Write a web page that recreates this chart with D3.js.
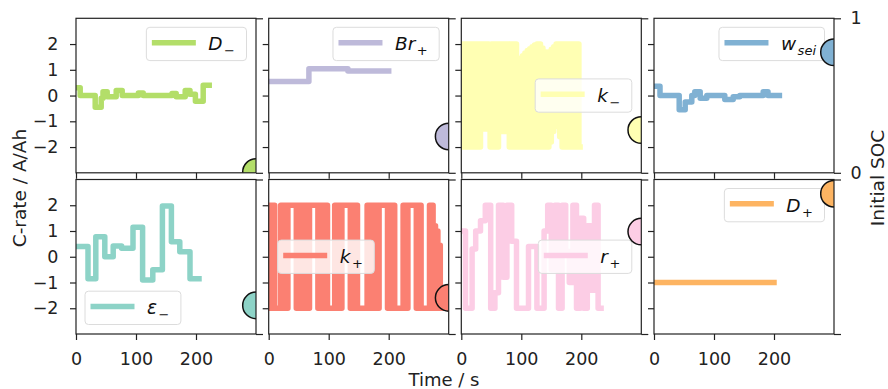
<!DOCTYPE html>
<html>
<head>
<meta charset="utf-8">
<script src="https://cdn.jsdelivr.net/npm/d3@7"></script>
<style>
  body { margin: 0; background: #fff; }
  svg { font-family: "DejaVu Sans", sans-serif; }
</style>
</head>
<body>
<svg id="chart" width="888" height="389"></svg>
<script>
// ---- data ----
const xTicks = [0, 100, 200];
const yTicks = [-2, -1, 0, 1, 2];
const socTicks = [0, 1];

// step series: times where the current changes, and the value from there on
const dNegT = [0, 7, 32, 42, 45, 52, 67, 77, 104, 112, 160, 167, 182, 190, 199, 212];
const dNegV = [0.3, 0, -0.45, -0.1, 0.15, -0.05, 0.2, 0, 0.1, 0, 0.08, -0.05, 0.2, 0.05, -0.22, 0.4];
const dNegEnd = 222;

const brPosT = [0, 67, 132];
const brPosV = [0.55, 1.04, 0.95];
const brPosEnd = 200;

const wSeiT = [0, 10, 42, 52, 63, 68, 77, 88, 118, 132, 143, 182, 190];
const wSeiV = [0.36, 0, -0.55, -0.25, 0, 0.15, -0.1, 0, -0.15, -0.05, 0, 0.15, 0];
const wSeiEnd = 209;

const epsNegT = [0, 20, 33, 48, 62, 76, 95, 111, 128, 144, 159, 173, 190];
const epsNegV = [0.4, -0.85, 0.78, 0, 0.42, 0.33, 1.15, -0.9, -0.5, 1.97, 0.58, 0.19, -0.85];
const epsNegEnd = 205;

const rPosT = [0, 7, 18, 24, 32, 40, 49, 56, 62, 70, 76, 84, 92, 112, 126, 138, 144, 150, 156, 162, 168, 174, 180, 186, 192, 198, 204, 210, 216, 222, 228];
const rPosV = [1.0, -2, 0.3, 1.0, 1.4, 2, -2, -1.4, 2, -0.8, 2, 0.6, -2, 0.4, -2, 1.0, 2, -0.5, 2, -2, 2, 0.2, -1.0, 2, -2, 1.5, -2, 1.2, -1.3, 2, -2];
const rPosEnd = 233;

const dPosT = [0];
const dPosV = [-1];
const dPosEnd = 200;

// bang-bang series, one value every 2 s
const denseStep = 2;
const kNegV = [
  2, -2, 2, -2, 2, -2, 2, -2, 2, -2, 2, -2, 2, -2, 2,
  -2, 2, -1.3, 2, -1.3, 2, -1.3, 2, -1.3,
  -2, 2, -2, 2, -2, 2, -2, 2,
  -1.4, 2, -1.4, 2, -1.4, 2, -1.4, 2,
  -2, 2, -2, 2, -2, 2,
  -2, 1.35, -2, 1.45, -2, 1.55, -2, 1.65, -2, 1.75, -2, 1.82, -2, 1.9, -2, 1.96, -2, 2,
  -2, 2, -2, 1.85, -2, 1.7, -2, 1.6,
  -2, 1.7, -1.8, 1.8, -1.4, 1.9, -0.95, 2, -1.2, 2, -1.6, 2, -2,
  2, -2, 2, -2, 2, -2, 2, -2, 2, -2, 2, -2, 2, -2
];
const kNegEnd = 198;

const kPosV = [
  2, -2, 2, -2, 2,
  -2, -2, -2, -2, -2,
  2, -2, 2, -2, 2, -2,
  2, 2, 2, 2, 2, 2, 2,
  -2, 2, -2, 2, -2, 2, -2, 2, -2, 2, -2,
  2, 2, 2, 2, 2, 2, 2,
  -2, 2, -2, 2, -2, 2, -2, 2,
  -2, -2, -2, -2, -2, -2,
  2, -2, 2, -2, 2, -2,
  2, 2, 2, 2, 2, 2, 2,
  -2, 2, -2, 2, -2, 2, -2,
  -2, -2, -2, -2, -2, -2, -2,
  2, -2, 2, -2, 2, -2, 2, -2, 2, -2,
  2, 2, 2, 2, 2, 2, 2,
  -2, 2, -2, 2, -2, 2,
  -2, -2, -2, -2, -2, -2, -2,
  2, -2, 2, -2,
  2, 2, 2, 2, 2, 2, 2,
  -2, 2, -2, 2,
  -2, -2, -2, -2, -2, -2, -2,
  2, -2, 2, -2, 1.2, -2, 1.0, -2, 0.45, -2
];
const kPosEnd = 288;

// initial state of charge marker per panel (right axis, 0..1)
const socInit = [0.005, 0.235, 0.277, 0.78, 0.185, 0.234, 0.663, 0.908];

const labelMain = ['D', 'Br', 'k', 'w', 'ε', 'k', 'r', 'D'];
const labelSub = ['−', '+', '−', 'sei', '−', '+', '+', '+'];
const colors = ['#b3de69', '#bebada', '#ffffb3', '#80b1d3', '#8dd3c7', '#fb8072', '#fccde5', '#fdb462'];
const legendLoc = ['upper right', 'upper right', 'center right', 'upper right',
                   'lower left', 'center left', 'center right', 'upper right'];

// ---- helpers ----
function stepPoints(t, v, end) {
  const pts = t.map((d, i) => [d, v[i]]);
  pts.push([end, v[v.length - 1]]);
  return pts;
}
function densePoints(v, end) {
  const pts = v.map((d, i) => [i * denseStep, d]);
  pts.push([end, v[v.length - 1]]);
  return pts;
}

const series = [
  stepPoints(dNegT, dNegV, dNegEnd),
  stepPoints(brPosT, brPosV, brPosEnd),
  densePoints(kNegV, kNegEnd),
  stepPoints(wSeiT, wSeiV, wSeiEnd),
  stepPoints(epsNegT, epsNegV, epsNegEnd),
  densePoints(kPosV, kPosEnd),
  stepPoints(rPosT, rPosV, rPosEnd),
  stepPoints(dPosT, dPosV, dPosEnd)
];

// ---- layout ----
const colLeft = [76, 268.7, 461.3, 654];
const rowTop = [18.3, 179.5];
const pw = 180, ph = 154.5;
const ink = '#222';

const svg = d3.select('#chart');

const x = d3.scaleLinear().domain([0, 300]).range([0, pw]);
const y = d3.scaleLinear().domain([-3, 3]).range([ph, 0]);
const ySoc = d3.scaleLinear().domain([0, 1]).range([ph, 0]);

const line = d3.line()
  .x(d => x(d[0]))
  .y(d => y(d[1]))
  .curve(d3.curveStepAfter);

series.forEach((pts, i) => {
  const row = Math.floor(i / 4), col = i % 4;
  const g = svg.append('g')
    .attr('transform', 'translate(' + colLeft[col] + ',' + rowTop[row] + ')');

  const clipId = 'clip' + i;
  g.append('clipPath').attr('id', clipId)
    .append('rect').attr('width', pw).attr('height', ph);

  g.append('path')
    .datum(pts)
    .attr('d', line)
    .attr('clip-path', 'url(#' + clipId + ')')
    .attr('fill', 'none')
    .attr('stroke', colors[i])
    .attr('stroke-width', 5.5)
    .attr('stroke-linecap', 'square')
    .attr('stroke-linejoin', 'round');

  // axes
  const left = g.append('g')
    .call(d3.axisLeft(y).tickValues(yTicks).tickSize(6).tickPadding(11.5)
      .tickFormat(col === 0 ? d3.format('d') : ''));
  const bottom = g.append('g')
    .attr('transform', 'translate(0,' + ph + ')')
    .call(d3.axisBottom(x).tickValues(xTicks).tickSize(6).tickPadding(13)
      .tickFormat(row === 1 ? d3.format('d') : ''));
  const right = g.append('g')
    .attr('transform', 'translate(' + pw + ',0)')
    .call(d3.axisRight(ySoc).tickValues(socTicks).tickSize(7).tickPadding(9.5)
      .tickFormat(i === 3 ? d3.format('d') : ''));
  [left, bottom, right].forEach(a => {
    a.select('.domain').remove();
    a.selectAll('line').attr('stroke', ink).attr('stroke-width', 1.2);
    a.selectAll('text').attr('fill', ink).style('font-size', '17.5px')
      .style('font-family', '"DejaVu Sans", sans-serif');
  });

  // legend
  const lg = g.append('g');
  const box = lg.append('rect');
  const hl = lg.append('line');
  const txt = lg.append('text')
    .attr('fill', '#111')
    .style('font-size', '18.5px')
    .style('font-style', 'italic');
  txt.append('tspan').text(labelMain[i]);
  txt.append('tspan')
    .attr('dy', 5)
    .attr('dx', 1.5)
    .style('font-size', '13px')
    .style('font-style', labelSub[i] === 'sei' ? 'italic' : 'normal')
    .text(labelSub[i]);
  const tw = txt.node().getComputedTextLength() + 1.5;
  const bw = 5.5 + 44 + 13 + tw + (labelSub[i] === 'sei' ? 8 : 11);
  const bh = 33.3;
  const loc = legendLoc[i];
  const bx = loc.endsWith('right') ? pw - 9.5 - bw : 9;
  const by = loc.startsWith('upper') ? 9 : loc.startsWith('lower') ? ph - 9.5 - bh : (ph - bh) / 2;
  box.attr('x', bx).attr('y', by).attr('width', bw).attr('height', bh)
    .attr('rx', 3.5)
    .attr('fill', '#fff').attr('fill-opacity', 0.8)
    .attr('stroke', '#dcdcdc').attr('stroke-width', 1);
  hl.attr('x1', bx + 5.5).attr('x2', bx + 49.5)
    .attr('y1', by + bh / 2 - 1.3).attr('y2', by + bh / 2 - 1.3)
    .attr('stroke', colors[i]).attr('stroke-width', 5.5);
  txt.attr('x', bx + 62).attr('y', by + bh / 2 + 6.5);

  // initial SOC marker (twin axis, drawn on top)
  g.append('circle')
    .attr('cx', x(300))
    .attr('cy', ySoc(socInit[i]))
    .attr('r', 13.3)
    .attr('clip-path', 'url(#' + clipId + ')')
    .attr('fill', colors[i])
    .attr('stroke', '#111')
    .attr('stroke-width', 1.5);

  g.append('rect')
    .attr('width', pw).attr('height', ph)
    .attr('fill', 'none')
    .attr('stroke', ink)
    .attr('stroke-width', 1.2);
});

// figure labels
svg.append('text')
  .attr('transform', 'translate(26,188) rotate(-90)')
  .attr('text-anchor', 'middle')
  .attr('fill', ink)
  .style('font-size', '18.5px')
  .text('C-rate / A/Ah');

svg.append('text')
  .attr('transform', 'translate(884,178) rotate(-90)')
  .attr('text-anchor', 'middle')
  .attr('fill', ink)
  .style('font-size', '18.5px')
  .text('Initial SOC');

svg.append('text')
  .attr('x', 444).attr('y', 386)
  .attr('text-anchor', 'middle')
  .attr('fill', ink)
  .style('font-size', '18px')
  .text('Time / s');
</script>
</body>
</html>
